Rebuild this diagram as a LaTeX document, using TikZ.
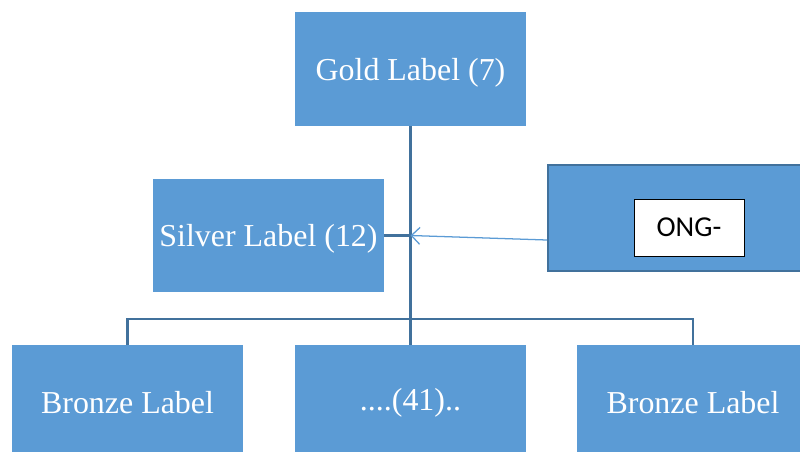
\documentclass[tikz,border=0pt]{standalone}
\usepackage{fontspec}
\setmainfont{Liberation Serif}
\newfontfamily\ongfont{Carlito}
\usetikzlibrary{positioning,arrows.meta}
\definecolor{boxblue}{HTML}{5B9BD5}
\definecolor{linkblue}{HTML}{41719C}
\begin{document}
\begin{tikzpicture}[x=0.025cm,y=-0.025cm,
  labelbox/.style={fill=boxblue,text=white,inner sep=0pt,
    minimum width=5.775cm,minimum height=2.85cm,font=\fontsize{22.7}{24}\selectfont},
  toplabel/.style={labelbox,text height=20pt,text depth=4pt},
  conn/.style={draw=linkblue,line width=1.6pt},
  pointer/.style={draw=boxblue,line width=0.9pt,-{Straight Barb[length=6pt,width=12pt]}}]

\useasboundingbox (0,0) rectangle (800,452);
\clip (0,0) rectangle (800,452);

% top of the tree
\node[toplabel] (gold) at (410.5,69) {Gold Label (7)};
\node[toplabel,minimum height=2.825cm] (silver) at (268.5,235.5) {Silver Label (12)};

% bottom row
\node[labelbox,minimum height=2.875cm] (bronzeA) at (127.5,402.5) {Bronze Label};
\node[labelbox,minimum height=2.875cm] (middle) at (410.5,402.5) {....(41)..};
\node[labelbox,minimum height=2.875cm] (bronzeB) at (693,402.5) {Bronze Label};

% side box
\node[fill=boxblue,draw=linkblue,line width=1.5pt,minimum width=6.5cm,
  minimum height=2.65cm,inner sep=0pt] (ong) at (678,218) {};
\node[fill=white,draw=black,line width=0.5pt,minimum width=2.75cm,
  minimum height=1.425cm,inner sep=0pt,font=\ongfont\fontsize{20.5}{22}\selectfont]
  (ongtag) at (689,227.5) {ONG-};

% connectors
\coordinate (joint) at (silver.east -| gold.south);
\draw[conn] (gold.south) -- (middle.north);
\draw[conn] (bronzeA.north) -- ++(0,-26) -| (bronzeB.north);
\draw[conn] (silver.east) -- (joint);
\draw[pointer] ([yshift=-0.55cm]ong.west) -- (joint);

\end{tikzpicture}
\end{document}
